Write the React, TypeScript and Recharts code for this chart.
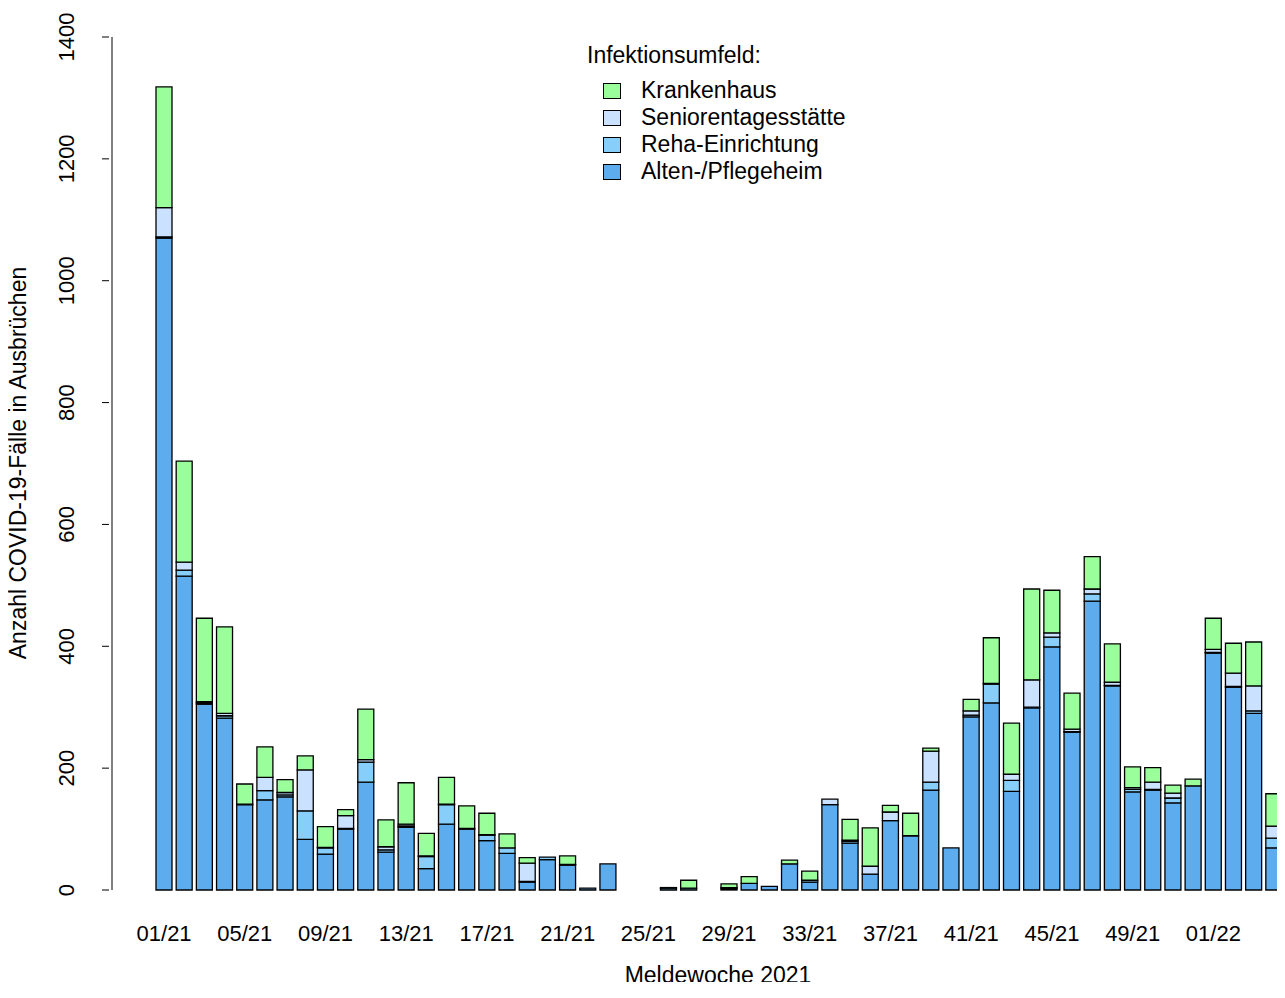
import { Bar, BarChart, XAxis, YAxis } from "recharts";

const weeks = [
	...Array.from({ length: 52 }, (_, i) => String(i + 1).padStart(2, "0") + "/21"),
	"01/22", "02/22", "03/22", "04/22",
];

const alten = [1070, 515, 305, 282, 140, 148, 153, 83, 59, 100, 177, 62, 103, 35, 108, 100, 81, 60, 13, 50, 41, 3, 43, 0, 0, 3, 3, 0, 2, 11, 6, 43, 13, 140, 77, 26, 114, 89, 164, 69, 284, 307, 162, 299, 399, 259, 474, 335, 161, 164, 143, 171, 389, 333, 290, 69];
const reha = [2, 10, 2, 4, 1, 15, 3, 47, 10, 1, 33, 4, 2, 20, 32, 1, 9, 9, 1, 4, 1, 0, 0, 0, 0, 0, 0, 0, 2, 0, 0, 0, 3, 0, 3, 0, 0, 0, 13, 0, 3, 31, 18, 1, 16, 1, 12, 1, 4, 1, 8, 0, 1, 1, 4, 16];
const senioren = [48, 13, 2, 4, 0, 22, 4, 67, 1, 21, 4, 5, 3, 1, 1, 0, 1, 0, 30, 0, 0, 0, 0, 0, 0, 0, 0, 0, 0, 0, 0, 0, 0, 9, 2, 13, 14, 0, 51, 0, 7, 1, 10, 45, 7, 4, 8, 5, 3, 12, 8, 0, 5, 22, 41, 20];
const krankenhaus = [198, 166, 137, 142, 33, 50, 21, 23, 34, 10, 83, 44, 68, 37, 44, 37, 35, 23, 9, 0, 14, 0, 0, 0, 0, 1, 13, 0, 6, 11, 0, 6, 15, 0, 34, 63, 11, 37, 5, 0, 19, 75, 84, 149, 70, 59, 53, 63, 34, 24, 13, 11, 51, 49, 72, 53];

const yTicks = [0, 200, 400, 600, 800, 1000, 1200, 1400];

const data = weeks.map((w, i) => ({
	week: w,
	alten: alten[i],
	reha: reha[i],
	senioren: senioren[i],
	krankenhaus: krankenhaus[i],
}));

const FONT = "'Liberation Sans', Arial, sans-serif";

const legendItems = [
	{ name: "Krankenhaus", color: "#9AFF9A" },
	{ name: "Seniorentagesstätte", color: "#CAE1FF" },
	{ name: "Reha-Einrichtung", color: "#87CEFA" },
	{ name: "Alten-/Pflegeheim", color: "#5CACEE" },
];

const YTick = (props: any) => {
	const { x, y, payload } = props;
	return (
		<g>
			<line x1={x - 2} x2={x + 5} y1={y} y2={y} stroke="#000" />
			<text
				x={x - 30}
				y={y}
				transform={`rotate(-90 ${x - 30} ${y})`}
				textAnchor="middle"
				fontSize={22}
				fontFamily={FONT}
			>
				{payload.value}
			</text>
		</g>
	);
};

export default function App() {
	return (
		<div style={{ position: "relative", width: 1285, height: 990, margin: -8, fontFamily: FONT }}>
			<BarChart
				width={1285}
				height={990}
				data={data}
				margin={{ top: 37, right: 1, bottom: 70, left: 0 }}
				barSize={16}
			>
				<XAxis
					dataKey="week"
					interval={3}
					height={30}
					axisLine={false}
					tickLine={false}
					padding={{ left: 42, right: 0 }}
					tick={{ fontSize: 22, fill: "#000", fontFamily: FONT, dy: 27 }}
				/>
				<YAxis
					width={112}
					domain={[0, 1400]}
					ticks={yTicks}
					tickLine={false}
					axisLine={{ stroke: "#000" }}
					tick={<YTick />}
				/>
				<Bar dataKey="alten" stackId="a" fill="#5CACEE" stroke="#000" strokeWidth={1.3} isAnimationActive={false} />
				<Bar dataKey="reha" stackId="a" fill="#87CEFA" stroke="#000" strokeWidth={1.3} isAnimationActive={false} />
				<Bar dataKey="senioren" stackId="a" fill="#CAE1FF" stroke="#000" strokeWidth={1.3} isAnimationActive={false} />
				<Bar dataKey="krankenhaus" stackId="a" fill="#9AFF9A" stroke="#000" strokeWidth={1.3} isAnimationActive={false} />
			</BarChart>
			<div style={{ position: "absolute", left: 587, top: 42, fontSize: 23 }}>Infektionsumfeld:</div>
			{legendItems.map((it, i) => (
				<div key={it.name} style={{ position: "absolute", left: 603, top: 77 + i * 27, fontSize: 23, display: "flex", alignItems: "center" }}>
					<span style={{ display: "inline-block", width: 16, height: 14, background: it.color, border: "1px solid #000", marginRight: 20 }} />
					{it.name}
				</div>
			))}
			<div style={{ position: "absolute", left: 0, width: 1436, top: 962, fontSize: 23, textAlign: "center" }}>Meldewoche 2021</div>
			<div
				style={{
					position: "absolute",
					left: 18,
					top: 463,
					fontSize: 23,
					whiteSpace: "nowrap",
					transform: "translate(-50%, -50%) rotate(-90deg)",
				}}
			>
				Anzahl COVID-19-Fälle in Ausbrüchen
			</div>
		</div>
	);
}
